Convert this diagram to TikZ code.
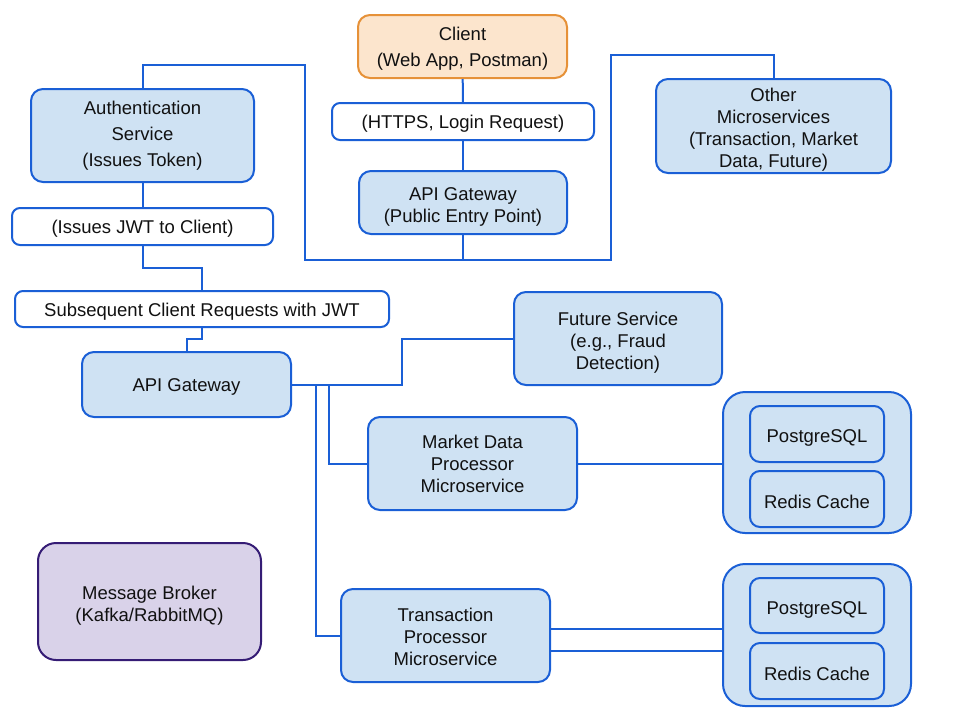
\documentclass[tikz,border=0pt]{standalone}
\usepackage{fontspec}
\setmainfont{Liberation Sans}
\definecolor{bfill}{HTML}{CFE2F3}
\definecolor{bline}{HTML}{1A5FD6}
\definecolor{ofill}{HTML}{FCE5CD}
\definecolor{oline}{HTML}{E69138}
\definecolor{pfill}{HTML}{D9D2E9}
\definecolor{pline}{HTML}{351C75}
\definecolor{txt}{HTML}{111111}
\newcommand{\tstrut}[1]{\rule{0pt}{#1pt}}
\begin{document}
\begin{tikzpicture}[x=1pt,y=-1pt,
  base/.style={draw=bline, line width=2pt, rounded corners=12pt, align=center, inner sep=0pt,
    text=txt, font=\fontsize{18.5}{22}\selectfont},
  svc/.style={base, fill=bfill},
  lbl/.style={base, fill=white, rounded corners=8pt},
  cli/.style={base, fill=ofill, draw=oline},
  brk/.style={base, fill=pfill, draw=pline},
  conn/.style={draw=bline, line width=2pt},
  sz/.style 2 args={minimum width=#1pt, minimum height=#2pt}]
\useasboundingbox (0,0) rectangle (960,720);

\node[cli, sz={209}{63}, font=\fontsize{18.5}{26}\selectfont] (client) at (462.5,46.5) {\tstrut{17.5}Client\\(Web App, Postman)};
\node[lbl, sz={262}{37}] (https) at (463,121.5) {\tstrut{18.5}(HTTPS, Login Request)};
\node[svc, sz={208}{63}] (gwpub) at (463,202.5) {\tstrut{21.5}API Gateway\\(Public Entry Point)};
\node[svc, sz={223}{93}, font=\fontsize{18.5}{26}\selectfont] (auth) at (142.5,135.5) {Authentication\\Service\\(Issues Token)};
\node[lbl, sz={261}{37}] (jwt) at (142.5,226.5) {\tstrut{18.5}(Issues JWT to Client)};
\node[lbl, sz={374}{36}] (subseq) at (202,309) {\tstrut{18.5}Subsequent Client Requests with JWT};
\node[svc, sz={209}{65}] (gw) at (186.5,384.5) {\tstrut{18.5}API Gateway};
\node[svc, sz={235}{94}] (other) at (773.5,126) {\tstrut{21.5}Other\\Microservices\\(Transaction, Market\\Data, Future)};
\node[svc, sz={208}{93}] (future) at (618,338.5) {\tstrut{21.5}Future Service\\(e.g., Fraud\\Detection)};
\node[svc, sz={209}{93}] (market) at (472.5,463.5) {Market Data\\Processor\\Microservice};
\node[svc, sz={188}{141}, rounded corners=22pt] (cont1) at (817,462.5) {};
\node[svc, sz={134}{56}, rounded corners=10pt] (pg1) at (817,434) {\tstrut{21}PostgreSQL};
\node[svc, sz={134}{56}, rounded corners=10pt] (rc1) at (817,499) {\tstrut{18.5}Redis Cache};
\node[svc, sz={209}{93}] (trans) at (445.5,635.5) {\tstrut{15.5}Transaction\\Processor\\Microservice};
\node[svc, sz={188}{142}, rounded corners=22pt] (cont2) at (817,635) {};
\node[svc, sz={134}{55}, rounded corners=10pt] (pg2) at (817,605.5) {\tstrut{21}PostgreSQL};
\node[svc, sz={134}{56}, rounded corners=10pt] (rc2) at (817,671) {\tstrut{18.5}Redis Cache};
\node[brk, sz={223}{117}, rounded corners=18pt] (broker) at (149.5,601.5) {\tstrut{21.5}Message Broker\\(Kafka/RabbitMQ)};

\coordinate (j1) at (305,65);
\coordinate (j2) at (305,260);
\coordinate (j3) at (611,260);
\coordinate (j4) at (611,55);
\coordinate (f1) at (402,384.5);
\coordinate (m1) at (329,384.5);
\coordinate (t1) at (316,384.5);

\draw[conn] (client) -- (https);
\draw[conn] (https) -- (gwpub);
\draw[conn] (auth.north) |- (j1) -- (j2) -- (j3) -- (j4) -| (other.north);
\draw[conn] (gwpub.south) -- (gwpub.south |- j2);
\draw[conn] (auth) -- (jwt);
\draw[conn] (jwt.south) -- ++(0,22) -| (subseq.north);
\draw[conn] (subseq.south) -- ++(0,11) -| (gw.north);
\draw[conn] (gw.east) -- (f1) |- (future.west);
\draw[conn] (m1) |- (market.west);
\draw[conn] (t1) |- (trans.west);
\draw[conn] (market.east) -- (market.east -| cont1.west);
\draw[conn] ([yshift=6.5pt]trans.east) -- ([yshift=6.5pt]trans.east -| cont2.west);
\draw[conn] ([yshift=-15.5pt]trans.east) -- ([yshift=-15.5pt]trans.east -| cont2.west);
\end{tikzpicture}
\end{document}
